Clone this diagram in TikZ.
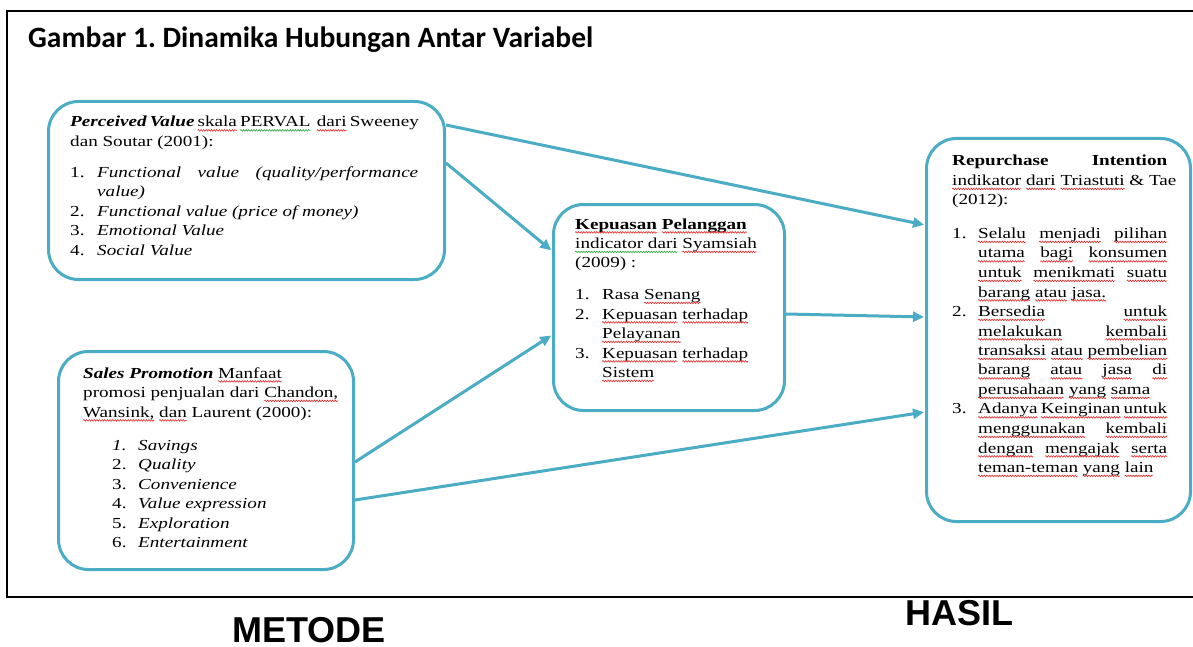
\documentclass[tikz,border=0pt]{standalone}
\usepackage{fontspec}
\setmainfont{Liberation Serif}
\newfontfamily\boxfont[FakeStretch=1.25]{Liberation Serif}
\newfontfamily\titlefont{Carlito}
\newfontfamily\labfont{Liberation Sans}
\usetikzlibrary{arrows.meta,calc,decorations.pathmorphing}
\definecolor{acc}{RGB}{75,172,198}
\definecolor{spellred}{RGB}{230,40,40}
\definecolor{spellgreen}{RGB}{40,170,60}
\newcommand\spr[2]{\makebox[#1][s]{#2}}
\newcommand\itm[3]{\makebox[#1][l]{#2}#3}
\newlength\sqlen
\newcommand\sqc[2]{\settowidth\sqlen{#2}\rlap{#2}\tikz[baseline=0pt,x=1pt,y=1pt]{\useasboundingbox (0,0) rectangle (\sqlen,0.1);\draw[#1,line width=0.6pt,decorate,decoration={snake,amplitude=0.8pt,segment length=2.6pt}] (0,-3.4) -- (\sqlen,-3.4);}}
\newcommand\sq[1]{\sqc{spellred}{#1}}
\newcommand\sqg[1]{\sqc{spellgreen}{#1}}
\newcommand\bfs{\fontsize{15.3}{19.5}\selectfont}
\frenchspacing
\begin{document}
\begin{tikzpicture}[x=1pt,y=-1pt,
  box/.style={draw=acc,line width=3pt,rounded corners=30pt,inner sep=0pt,anchor=north west},
  arr/.style={draw=acc,line width=3pt,-{Triangle[length=11pt,width=10pt]},shorten >=1pt},
  txt/.style={inner sep=0pt,anchor=base west,font=\boxfont\bfs},
  lab/.style={inner sep=0pt,anchor=base west,font=\labfont\bfseries\fontsize{36}{40}\selectfont}]
\useasboundingbox (0,0) rectangle (1193,647);
\fill[white] (0,0) rectangle (1193,647);
\draw[line width=2pt] (1200,11) -- (7,11) -- (7,597) -- (1200,597);
\node[inner sep=0pt,anchor=base west,font=\titlefont\bfseries\fontsize{29.5}{31}\selectfont] (title) at (28,48) {Gambar 1. Dinamika Hubungan Antar Variabel};
% boxes
\node[box,minimum width=396pt,minimum height=178pt] (pv) at (47,100) {};
\node[box,minimum width=295pt,minimum height=218pt] (sp) at (57,350) {};
\node[box,minimum width=231pt,minimum height=206pt] (kp) at (552,203) {};
\node[box,minimum width=264pt,minimum height=383pt] (ri) at (925,137) {};
% texts
\node[txt] (pvt) at (70,127) {\parbox[t]{348pt}{\bfs
\spr{348pt}{\textbf{\textit{Perceived Value}} \sq{skala} \sqg{PERVAL}\ \ \sq{dari} Sweeney}\\
dan Soutar (2001):\\[11.5pt]
\itm{27pt}{1.}{\spr{321pt}{\textit{Functional value (quality/performance}}}\\
\hspace*{27pt}\textit{value)}\\
\itm{27pt}{2.}{\textit{Functional value (price of money)}}\\
\itm{27pt}{3.}{\textit{Emotional Value}}\\
\itm{27pt}{4.}{\textit{Social Value}}}};
\node[txt] (spt) at (83,378) {\parbox[t]{260pt}{\bfs
\textbf{\textit{Sales Promotion}} \sq{Manfaat}\\
promosi penjualan dari \sq{Chandon,}\\
\sq{Wansink,} \sq{dan} Laurent (2000):\\[13.5pt]
\hspace*{29pt}\itm{26pt}{\textit{1.}}{\textit{Savings}}\\
\hspace*{29pt}\itm{26pt}{2.}{\textit{Quality}}\\
\hspace*{29pt}\itm{26pt}{3.}{\textit{Convenience}}\\
\hspace*{29pt}\itm{26pt}{4.}{\textit{Value expression}}\\
\hspace*{29pt}\itm{26pt}{5.}{\textit{Exploration}}\\
\hspace*{29pt}\itm{26pt}{6.}{\textit{Entertainment}}}};
\node[txt] (kpt) at (575,229) {\parbox[t]{200pt}{\bfs
\textbf{\sq{Kepuasan} \sq{Pelanggan}}\\
\sqg{indicator dari} \sq{Syamsiah}\\
(2009) :\\[12pt]
\itm{27pt}{1.}{Rasa \sq{Senang}}\\
\itm{27pt}{2.}{\sq{Kepuasan} \sq{terhadap}}\\
\hspace*{27pt}\sq{Pelayanan}\\
\itm{27pt}{3.}{\sq{Kepuasan} \sq{terhadap}}\\
\hspace*{27pt}\sq{Sistem}}};
\node[txt] (rit) at (952,166) {\parbox[t]{215pt}{\bfs
\spr{215pt}{\textbf{Repurchase Intention}}\\
\mbox{\sq{indikator} \sq{dari} \sq{Triastuti} \& Tae}\\
(2012):\\[14pt]
\itm{26pt}{1.}{\spr{189pt}{\sq{Selalu} \sq{menjadi} \sq{pilihan}}}\\
\hspace*{26pt}\spr{189pt}{\sq{utama} \sq{bagi} \sq{konsumen}}\\
\hspace*{26pt}\spr{189pt}{\sq{untuk} \sq{menikmati} \sq{suatu}}\\
\hspace*{26pt}\sq{barang} \sq{atau} \sq{jasa.}\\
\itm{26pt}{2.}{\spr{189pt}{\sq{Bersedia} \sq{untuk}}}\\
\hspace*{26pt}\spr{189pt}{\sq{melakukan} \sq{kembali}}\\
\hspace*{26pt}\spr{189pt}{\sq{transaksi} \sq{atau} \sq{pembelian}}\\
\hspace*{26pt}\spr{189pt}{\sq{barang} \sq{atau} \sq{jasa} \sq{di}}\\
\hspace*{26pt}\mbox{\sq{perusahaan} \sq{yang} \sq{sama}}\\
\itm{26pt}{3.}{\spr{189pt}{\sq{Adanya} \sq{Keinginan} \sq{untuk}}}\\
\hspace*{26pt}\spr{189pt}{\sq{menggunakan} \sq{kembali}}\\
\hspace*{26pt}\spr{189pt}{\sq{dengan} \sq{mengajak} \sq{serta}}\\
\hspace*{26pt}\mbox{\sq{teman-teman} \sq{yang} \sq{lain}}}};
% arrows
\draw[arr] ([yshift=-25pt]pv.north east) -- ([yshift=-88pt]ri.north west);
\draw[arr] ([yshift=-63pt]pv.north east) -- ([yshift=-48pt]kp.north west);
\draw[arr] ([yshift=-112pt]sp.north east) -- ([yshift=-132pt]kp.north west);
\draw[arr] ([yshift=-150pt]sp.north east) -- ([yshift=-275pt]ri.north west);
\draw[arr] ([yshift=-111pt]kp.north east) -- ([yshift=-180pt]ri.north west);
% labels
\node[lab] (metode) at (232,642) {METODE};
\node[lab] (hasil) at (905,625) {HASIL};
\end{tikzpicture}
\end{document}
